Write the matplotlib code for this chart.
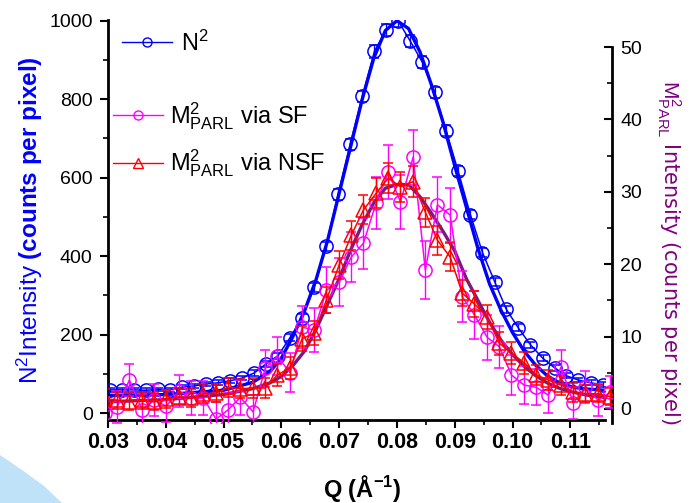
import numpy as np
import matplotlib.pyplot as plt
from matplotlib.patches import Polygon
from matplotlib.lines import Line2D

plt.rcParams['font.family'] = ['Liberation Sans', 'DejaVu Sans']
plt.rcParams['mathtext.fontset'] = 'custom'
plt.rcParams['mathtext.rm'] = 'Liberation Sans'
plt.rcParams['mathtext.it'] = 'Liberation Sans:italic'
plt.rcParams['mathtext.bf'] = 'Liberation Sans:bold'

# N^2 data (left axis)
q_n = [0.0303, 0.0324, 0.0345, 0.0365, 0.0386, 0.0407, 0.0428, 0.0449, 0.0469, 0.0490,
       0.0511, 0.0532, 0.0553, 0.0573, 0.0594, 0.0615, 0.0636, 0.0657, 0.0677, 0.0698,
       0.0719, 0.0740, 0.0761, 0.0781, 0.0802, 0.0823, 0.0844, 0.0865, 0.0885, 0.0906,
       0.0927, 0.0948, 0.0969, 0.0989, 0.1010, 0.1031, 0.1052, 0.1073, 0.1093, 0.1114,
       0.1135, 0.1156]
n2 = [59, 59, 59, 58, 60, 59, 66, 69, 74, 77,
      82, 89, 102, 125, 146, 192, 243, 320, 425, 557,
      685, 807, 922, 976, 1000, 948, 894, 817, 720, 616,
      506, 409, 335, 265, 217, 174, 140, 115, 95, 84,
      77, 72]
n2_err = [5, 5, 5, 5, 5, 5, 5, 5, 5, 6,
          6, 6, 7, 7, 8, 9, 10, 11, 12, 13,
          14, 15, 16, 16, 16, 16, 15, 15, 14, 13,
          12, 11, 10, 9, 9, 8, 7, 7, 6, 6,
          6, 6]
q_nfit = [0.030, 0.040, 0.050, 0.055, 0.058, 0.060, 0.062, 0.064, 0.066, 0.068,
          0.070, 0.072, 0.074, 0.076, 0.078, 0.080, 0.082, 0.084, 0.086, 0.088,
          0.090, 0.092, 0.094, 0.096, 0.098, 0.100, 0.102, 0.104, 0.106, 0.108,
          0.110, 0.112, 0.116]
n2_fit = [45, 47, 58, 78, 105, 140, 195, 260, 340, 440,
          560, 680, 800, 905, 975, 1000, 980, 920, 835, 740,
          630, 525, 420, 330, 262, 205, 158, 122, 95, 78,
          68, 62, 58]

# M^2 PARL data (right axis)
q_m = [0.0295, 0.0316, 0.0337, 0.0359, 0.0380, 0.0401, 0.0423, 0.0444, 0.0465, 0.0487,
       0.0508, 0.0529, 0.0551, 0.0572, 0.0593, 0.0615, 0.0636, 0.0657, 0.0678, 0.0700,
       0.0721, 0.0742, 0.0764, 0.0785, 0.0806, 0.0828, 0.0849, 0.0870, 0.0892, 0.0913,
       0.0934, 0.0956, 0.0977, 0.0998, 0.1020, 0.1041, 0.1062, 0.1084, 0.1105, 0.1126,
       0.1148, 0.1169]
m2_sf = [-0.5, 0.3, 4.0, -0.1, 1.2, 0.4, 2.5, 1.5, 1.5, -1.4,
         -0.1, 1.6, -0.4, 5.6, 7.3, 5.0, 11.3, 10.9, 16.4, 17.5,
         21.0, 22.9, 28.5, 32.7, 28.6, 34.8, 19.2, 28.2, 26.8, 15.5,
         13.0, 9.9, 8.6, 4.7, 3.3, 3.0, 1.9, 5.8, 0.8, 3.0,
         1.2, 2.3]
m2_sf_err = [2.2, 2.2, 2.2, 2.2, 2.2, 2.2, 2.2, 2.3, 2.3, 2.3,
             2.3, 2.4, 2.4, 2.5, 2.6, 2.7, 2.9, 3.0, 3.2, 3.3,
             3.4, 3.5, 3.6, 3.7, 3.7, 3.8, 4.0, 3.8, 3.7, 3.5,
             3.3, 3.1, 2.9, 2.7, 2.6, 2.5, 2.4, 2.3, 2.2, 2.2,
             2.2, 2.2]
m2_nsf = [1.5, 1.2, 1.0, 1.2, 1.0, 1.4, 1.7, 1.5, 2.1, 2.2,
          3.0, 2.8, 2.9, 2.9, 4.7, 5.7, 9.7, 10.5, 15.1, 19.9,
          24.0, 27.5, 29.8, 31.9, 30.7, 31.4, 27.2, 23.3, 21.0, 16.0,
          14.5, 12.7, 9.1, 7.7, 6.4, 4.7, 4.0, 3.3, 2.3, 2.1,
          2.1, 1.7]
m2_nsf_err = [1.2, 1.2, 1.2, 1.2, 1.2, 1.2, 1.2, 1.2, 1.3, 1.3,
              1.3, 1.3, 1.4, 1.4, 1.5, 1.5, 1.7, 1.7, 1.8, 1.9,
              2.0, 2.0, 2.1, 2.1, 2.1, 2.1, 2.0, 2.0, 1.9, 1.8,
              1.8, 1.7, 1.6, 1.5, 1.5, 1.4, 1.4, 1.3, 1.3, 1.2,
              1.2, 1.2]
q_mfit = [0.030, 0.040, 0.050, 0.055, 0.058, 0.060, 0.062, 0.064, 0.066, 0.068,
          0.070, 0.072, 0.074, 0.076, 0.078, 0.080, 0.082, 0.084, 0.086, 0.088,
          0.090, 0.092, 0.094, 0.096, 0.098, 0.100, 0.102, 0.104, 0.106, 0.108,
          0.110, 0.113, 0.116]
m2_fit = [1.0, 1.3, 2.0, 2.8, 3.6, 4.5, 6.0, 8.0, 11.0, 14.5,
          18.0, 22.0, 25.5, 28.5, 30.5, 31.0, 31.0, 29.3, 27.0, 24.5,
          21.8, 18.0, 15.0, 12.0, 9.5, 7.5, 5.9, 4.6, 3.6, 2.9,
          2.4, 1.9, 1.6]

x_ticks = [0.03, 0.04, 0.05, 0.06, 0.07, 0.08, 0.09, 0.10, 0.11]
x_tick_labels = ["0.03", "0.04", "0.05", "0.06", "0.07", "0.08", "0.09", "0.10", "0.11"]
y_ticks = [0, 200, 400, 600, 800, 1000]
y2_ticks = [0, 10, 20, 30, 40, 50]

W, H = 691, 503
fig = plt.figure(figsize=(W / 100, H / 100), dpi=100)

# light blue swoosh in the corner
swoosh = [(0, 455), (22, 470), (44, 486), (62, 503), (0, 503)]
fig.patches.append(Polygon([(x / W, 1 - y / H) for x, y in swoosh], closed=True,
                           transform=fig.transFigure, facecolor='#bfe2f8',
                           edgecolor='none', zorder=0))

ax1 = fig.add_axes([108 / W, 1 - 420 / H, 497 / W, 400 / H])
ax2 = fig.add_axes([108 / W, 1 - 423 / H, 504 / W, 376 / H])
ax1.patch.set_alpha(0)
ax2.patch.set_alpha(0)

# left axis: N^2
ax1.errorbar(q_n, n2, yerr=n2_err, fmt='-o', color='#0000ff', mfc='none', mec='#0000ff',
             ms=9.5, lw=1.1, mew=1.1, capsize=3.5, elinewidth=0.9, capthick=0.9, zorder=3)
ax1.plot(q_nfit, n2_fit, color='#0000ff', lw=2.4, zorder=2)
ax1.set_xlim(0.03, 0.1160)
ax1.set_ylim(-17.8, 1001.8)
ax1.set_xticks(x_ticks)
ax1.set_xticklabels(x_tick_labels, fontsize=15.5, fontweight='bold')
ax1.set_xticks(np.arange(0.035, 0.116, 0.01), minor=True)
ax1.set_yticks(y_ticks)
ax1.set_yticklabels([str(v) for v in y_ticks], fontsize=14)
ax1.set_yticks(np.arange(100, 1000, 200), minor=True)
ax1.tick_params(which='major', direction='out', length=6, width=1.5, pad=3)
ax1.tick_params(which='minor', direction='out', length=3.5, width=1.2)
ax1.tick_params(axis='y', pad=5)
for s in ['top', 'right']:
    ax1.spines[s].set_visible(False)
for s in ['left', 'bottom']:
    ax1.spines[s].set_linewidth(2)
ax1.set_ylabel(r"N$^2$Intensity $\mathbf{(counts\ per\ pixel)}$", color='#0000ff',
               fontsize=17.5)
ax1.yaxis.set_label_coords(-0.127, 0.5)

# right axis: M^2 PARL
ax2.errorbar(q_m, m2_sf, yerr=m2_sf_err, fmt='-o', color='#ff00ff', mfc='none',
             mec='#ff00ff', ms=9.5, lw=1.1, mew=1.1, capsize=3.5, elinewidth=1.0,
             capthick=1.0, zorder=3)
ax2.plot(q_mfit, m2_fit, color='#7a1a7a', lw=2.4, zorder=2)
ax2.errorbar(q_m, m2_nsf, yerr=m2_nsf_err, fmt='-^', color='#ff0000', mfc='none',
             mec='#ff0000', ms=9.5, lw=1.1, mew=1.1, capsize=3.5, elinewidth=1.0,
             capthick=1.0, zorder=4)
ax2.set_xlim(0.03, 0.1172)
ax2.set_ylim(-1.934, 50)
ax2.set_xticks([])
ax2.yaxis.tick_right()
ax2.yaxis.set_label_position('right')
ax2.set_yticks(y2_ticks)
ax2.set_yticklabels([str(v) for v in y2_ticks], fontsize=14)
ax2.set_yticks(np.arange(5, 50, 10), minor=True)
ax2.tick_params(which='major', direction='in', length=6, width=1.5, pad=6)
ax2.tick_params(which='minor', direction='in', length=3.5, width=1.2)
for s in ['top', 'left', 'bottom']:
    ax2.spines[s].set_visible(False)
ax2.spines['right'].set_linewidth(2)
ax2.set_ylabel(r"$\mathrm{M}^2_{\mathrm{PARL}}$ Intensity (counts per pixel)",
               color='#800080', fontsize=15, rotation=-90, va='center',
               family='Liberation Sans Narrow')
ax2.yaxis.set_label_coords(1.113, 0.455)

# legends
h_n = Line2D([], [], color='#0000ff', marker='o', mfc='none', ms=6.5, lw=1.0)
h_sf = Line2D([], [], color='#ff00ff', marker='o', mfc='none', ms=6.5, lw=1.0)
h_nsf = Line2D([], [], color='#ff0000', marker='^', mfc='none', ms=6.5, lw=1.0)
leg1 = fig.legend([h_n], [r"N$^2$"], loc='center left',
                  bbox_to_anchor=(122 / W, 1 - 43 / H), frameon=False, fontsize=17,
                  handlelength=2.1, handletextpad=0.4, borderpad=0, borderaxespad=0)
leg2 = fig.legend([h_sf, h_nsf],
                  [r"$\mathrm{M}^2_{\mathrm{PARL}}$ via SF",
                   r"$\mathrm{M}^2_{\mathrm{PARL}}$ via NSF"],
                  loc='center left', bbox_to_anchor=(113 / W, 1 - 140 / H),
                  frameon=False, fontsize=17, handlelength=2.1, handletextpad=0.3,
                  borderpad=0, borderaxespad=0, labelspacing=0.65)

fig.text(362 / W, 1 - 488 / H, r"Q ($\mathbf{\AA^{-1}}$)", ha='center', va='center',
         fontsize=17, fontweight='bold')

fig.savefig('out.png', dpi=100)
